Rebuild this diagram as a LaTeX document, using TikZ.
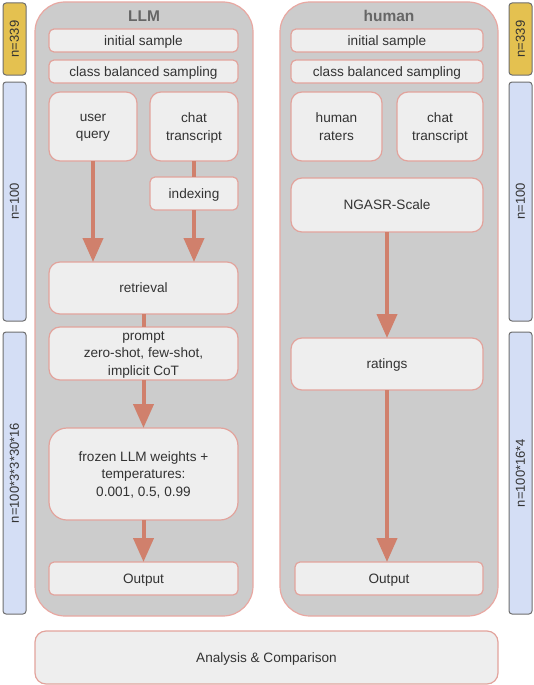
\documentclass[tikz,border=0pt]{standalone}
\usepackage{fontspec}
\setmainfont{Liberation Sans}
\usepackage{tikz}
\usetikzlibrary{calc, positioning, arrows.meta}
\definecolor{panelfill}{HTML}{CCCCCC}
\definecolor{paneldraw}{HTML}{E8A8A2}
\definecolor{boxfill}{HTML}{EEEEEE}
\definecolor{boxdraw}{HTML}{E2A39C}
\definecolor{flowcolor}{HTML}{D0806C}
\definecolor{countyellow}{HTML}{E4C150}
\definecolor{countblue}{HTML}{D4DEF5}
\definecolor{countdraw}{HTML}{6E6E6E}
\definecolor{titlecolor}{HTML}{666666}
\definecolor{textcolor}{HTML}{333333}
\def\textsize{\fontsize{13.6}{17.5}\selectfont}
\def\panelwidth{218pt}
\def\panelheight{614pt}
\def\boxlinewidth{1.2pt}
\def\flowlinewidth{4pt}
\tikzset{
	% panels
	panel/.style={
		shape=rectangle,
		draw=paneldraw,
		line width=\boxlinewidth,
		fill=panelfill,
		rounded corners=30pt,
		minimum width=\panelwidth,
		minimum height=\panelheight,
		inner sep=0pt,
	},
	title/.style={
		font=\fontsize{15.5}{18}\selectfont\bfseries,
		text=titlecolor,
	},
	% steps inside the panels
	stepbox/.style={
		shape=rectangle,
		draw=boxdraw,
		line width=\boxlinewidth,
		fill=boxfill,
		rounded corners=5pt,
		font=\textsize,
		text=textcolor,
		text depth=-1pt,
		align=center,
		inner sep=0pt,
		outer sep=0pt,
	},
	bigstep/.style={
		stepbox,
		rounded corners=11pt,
	},
	% sample sizes
	count/.style={
		shape=rectangle,
		draw=countdraw,
		line width=1pt,
		rounded corners=3pt,
		rotate=90,
		minimum height=23pt,
		font=\fontsize{13}{15}\selectfont,
		text=textcolor,
		inner sep=0pt,
	},
	% connections
	flow/.style={
		line width=\flowlinewidth,
		draw=flowcolor,
		-{Triangle[width=20pt,length=24pt]},
	},
	link/.style={
		line width=\flowlinewidth,
		draw=flowcolor,
	}
}
\begin{document}
\begin{tikzpicture}[x=1pt, y=-1pt]
	\useasboundingbox (0,0) rectangle (534,685);

	% Sample sizes
	\node[count, fill=countyellow, minimum width=72pt] (llm_n339) at (14.5,39) {n=339};
	\node[count, fill=countblue, minimum width=239pt] (llm_n100) at (14.5,201.5) {n=100};
	\node[count, fill=countblue, minimum width=282pt] (llm_nall) at (14.5,473) {n=100*3*3*30*16};
	\node[count, fill=countyellow, minimum width=72pt] (human_n339) at (520.5,39) {n=339};
	\node[count, fill=countblue, minimum width=239pt] (human_n100) at (520.5,201.5) {n=100};
	\node[count, fill=countblue, minimum width=282pt] (human_nall) at (520.5,473) {n=100*16*4};

	% Panels
	\node[panel] (llm_panel) at (144,309) {};
	\node[title] (llm_title) at (144,16) {LLM};
	\node[panel] (human_panel) at (389,309) {};
	\node[title] (human_title) at (389,16) {human};

	% LLM side
	\node[
		stepbox,
		minimum width=189pt, minimum height=23pt
	] (llm_initial) at (143.5,40.5) {initial sample};
	%
	\node[
		stepbox,
		minimum width=189pt, minimum height=23pt
	] (llm_balanced) at (143.5,71.5) {class balanced sampling};
	%
	\node[
		bigstep,
		minimum width=88pt, minimum height=69pt
	] (llm_query) at (93,126.5) {user\\query};
	%
	\node[
		bigstep,
		minimum width=88pt, minimum height=69pt
	] (llm_chat) at (194,126.5) {chat\\transcript};
	%
	\node[
		stepbox,
		minimum width=88pt, minimum height=33pt
	] (llm_indexing) at (194,193.5) {indexing};
	%
	\node[
		bigstep,
		minimum width=189pt, minimum height=52pt
	] (llm_retrieval) at (143.5,288) {retrieval};
	%
	\node[
		bigstep,
		minimum width=189pt, minimum height=53pt
	] (llm_prompt) at (143.5,353.5) {prompt\\zero-shot, few-shot,\\implicit CoT};
	%
	\node[
		bigstep,
		rounded corners=18pt,
		minimum width=189pt, minimum height=92pt
	] (llm_frozen) at (143.5,474) {frozen LLM weights +\\temperatures:\\0.001, 0.5, 0.99};
	%
	\node[
		stepbox,
		minimum width=189pt, minimum height=33pt
	] (llm_output) at (143.5,578.5) {Output};

	% human side
	\node[
		stepbox,
		minimum width=192pt, minimum height=23pt
	] (human_initial) at (387,40.5) {initial sample};
	%
	\node[
		stepbox,
		minimum width=192pt, minimum height=23pt
	] (human_balanced) at (387,71.5) {class balanced sampling};
	%
	\node[
		bigstep,
		minimum width=91pt, minimum height=69pt
	] (human_raters) at (336.5,126.5) {human\\raters};
	%
	\node[
		bigstep,
		minimum width=86pt, minimum height=69pt
	] (human_chat) at (440,126.5) {chat\\transcript};
	%
	\node[
		bigstep,
		minimum width=192pt, minimum height=54pt
	] (human_scale) at (387,205) {NGASR-Scale};
	%
	\node[
		bigstep,
		minimum width=192pt, minimum height=52pt
	] (human_ratings) at (387,364) {ratings};
	%
	\node[
		stepbox,
		minimum width=188pt, minimum height=33pt
	] (human_output) at (389,578.5) {Output};

	% Analysis
	\node[
		bigstep,
		minimum width=463pt, minimum height=53pt
	] (analysis) at (266.5,657.5) {Analysis \& Comparison};

	% Connections
	%% LLM side
	\draw[flow] (llm_query.south) -- (llm_query.south |- llm_retrieval.north);
	\draw[link] (llm_chat.south) -- (llm_indexing.north);
	\draw[flow] (llm_indexing.south) -- (llm_indexing.south |- llm_retrieval.north);
	\draw[link] (llm_retrieval.south) -- (llm_prompt.north);
	\draw[flow] (llm_prompt.south) -- (llm_frozen.north);
	\draw[flow] (llm_frozen.south) -- (llm_output.north);
	%% human side
	\draw[flow] (human_scale.south) -- (human_ratings.north);
	\draw[flow] (human_ratings.south) -- (human_ratings.south |- human_output.north);
\end{tikzpicture}
\end{document}
